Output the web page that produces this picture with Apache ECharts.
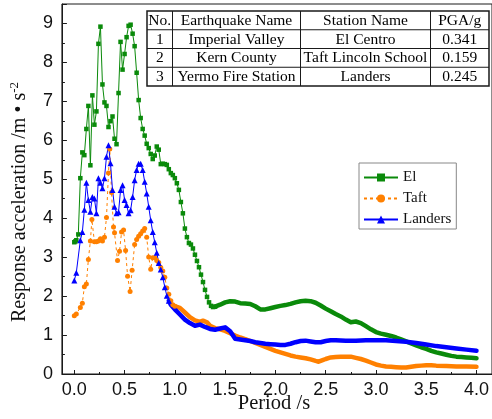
<!DOCTYPE html>
<html>
<head>
<meta charset="utf-8">
<script src="https://cdn.jsdelivr.net/npm/echarts@6/dist/echarts.min.js"></script>
<style>
html,body{margin:0;padding:0;background:#fff;}
#chart{width:492px;height:419px;}
</style>
</head>
<body>
<div id="chart"></div>
<script>
// ---- Data ----
// El Centro: discrete-marker part
const elPeriod = [0.00,0.01,0.02,0.04,0.06,0.08,0.10,0.12,0.14,0.16,0.18,0.20,0.22,0.24,0.26,0.28,0.30,0.32,0.34,0.36,0.38,0.40,0.42,0.44,0.46,0.48,0.50,0.52,0.54,0.56,0.58,0.60,0.62,0.64,0.66,0.68,0.70,0.72,0.74,0.76,0.78,0.80,0.82,0.84,0.86,0.88,0.90,0.92,0.94,0.96,0.98,1.00,1.02,1.04,1.06,1.08,1.10,1.12,1.14,1.16,1.18,1.20,1.22,1.24,1.26,1.28,1.30,1.32,1.34,1.36,1.38,1.40];
const elAcc    = [3.40,3.42,3.45,3.60,5.04,5.70,5.63,6.30,6.89,5.37,7.16,6.41,6.75,8.48,8.92,7.44,6.98,6.89,6.35,6.50,6.62,6.05,5.91,7.22,8.53,7.82,8.22,8.65,8.94,8.97,8.74,8.42,7.74,7.04,6.58,6.30,6.13,5.92,5.81,5.66,5.53,5.62,5.85,5.77,5.40,5.41,5.40,5.38,5.27,5.17,5.12,5.04,4.91,4.74,4.43,4.14,3.75,3.53,3.38,3.34,3.24,3.08,2.92,2.76,2.57,2.38,2.18,2.00,1.86,1.77,1.74,1.75];
// El Centro: dense part (markers merge into a band)
const elDensePeriod = [1.40,1.45,1.50,1.55,1.60,1.65,1.70,1.75,1.80,1.85,1.90,1.95,2.00,2.05,2.10,2.15,2.20,2.25,2.30,2.35,2.40,2.45,2.50,2.55,2.60,2.65,2.70,2.75,2.80,2.85,2.90,2.95,3.00,3.05,3.10,3.15,3.20,3.25,3.30,3.35,3.40,3.45,3.50,3.55,3.60,3.65,3.70,3.75,3.80,3.85,3.90,3.95,4.00];
const elDenseAcc    = [1.75,1.80,1.86,1.89,1.88,1.84,1.83,1.82,1.76,1.68,1.68,1.71,1.74,1.77,1.79,1.82,1.86,1.89,1.90,1.89,1.85,1.78,1.70,1.63,1.56,1.50,1.42,1.35,1.37,1.33,1.25,1.17,1.10,1.06,1.03,1.00,0.96,0.91,0.86,0.81,0.76,0.71,0.67,0.62,0.58,0.55,0.52,0.49,0.47,0.46,0.45,0.44,0.43];

// Taft
const taftPeriod = [0.00,0.02,0.06,0.08,0.10,0.12,0.14,0.16,0.175,0.20,0.22,0.24,0.26,0.28,0.30,0.32,0.34,0.353,0.37,0.39,0.40,0.43,0.45,0.47,0.49,0.51,0.53,0.555,0.575,0.60,0.62,0.64,0.66,0.68,0.70,0.72,0.74,0.76,0.78,0.80,0.82,0.84,0.86,0.88,0.90,0.92,0.94,0.96,0.98,1.00];
const taftAcc    = [1.52,1.56,1.73,1.84,2.26,2.33,2.96,3.43,3.98,3.41,3.41,3.43,3.49,3.43,3.53,4.03,5.17,5.79,4.67,3.79,3.64,2.93,3.17,3.66,3.71,3.19,2.53,2.14,2.68,3.34,3.47,3.55,3.62,3.69,3.75,3.53,3.02,2.71,3.00,3.00,2.93,2.88,2.75,2.66,2.50,2.23,2.07,1.90,1.80,1.76];
const taftDensePeriod = [1.00,1.05,1.10,1.15,1.20,1.25,1.28,1.32,1.35,1.40,1.45,1.50,1.55,1.60,1.65,1.70,1.75,1.80,1.85,1.90,1.95,2.00,2.05,2.10,2.15,2.20,2.25,2.30,2.35,2.40,2.43,2.47,2.50,2.55,2.60,2.65,2.70,2.75,2.80,2.85,2.90,2.95,3.00,3.05,3.10,3.15,3.20,3.25,3.30,3.35,3.40,3.45,3.50,3.55,3.60,3.70,3.80,3.90,4.00];
const taftDenseAcc    = [1.76,1.72,1.60,1.48,1.40,1.36,1.39,1.35,1.26,1.20,1.17,1.13,1.07,1.01,0.96,0.92,0.87,0.82,0.77,0.72,0.67,0.62,0.58,0.54,0.50,0.47,0.45,0.43,0.40,0.36,0.34,0.38,0.41,0.45,0.46,0.47,0.47,0.47,0.44,0.41,0.37,0.32,0.27,0.24,0.22,0.21,0.20,0.19,0.19,0.21,0.23,0.24,0.25,0.25,0.24,0.23,0.22,0.22,0.21];

// Landers
const landPeriod = [0.00,0.02,0.06,0.08,0.10,0.12,0.14,0.16,0.18,0.20,0.22,0.24,0.26,0.28,0.30,0.32,0.34,0.36,0.38,0.40,0.42,0.44,0.46,0.48,0.50,0.52,0.54,0.56,0.58,0.60,0.62,0.64,0.66,0.68,0.70,0.72,0.74,0.76,0.78,0.80,0.82,0.84,0.86,0.88,0.90,0.92,0.94];
const landAcc    = [2.42,2.62,3.45,3.66,4.23,4.92,4.48,4.18,4.56,4.52,4.14,5.04,4.92,4.78,5.04,5.59,5.88,5.42,4.74,4.31,4.14,4.17,4.74,4.86,4.48,4.35,4.14,4.22,4.56,4.99,5.25,5.41,5.41,5.25,4.95,4.65,4.31,3.96,3.66,3.40,3.13,2.87,2.70,2.50,2.25,2.03,1.90];
const landDensePeriod = [0.94,0.96,1.00,1.05,1.10,1.15,1.20,1.25,1.30,1.35,1.40,1.45,1.50,1.55,1.60,1.65,1.70,1.75,1.80,1.85,1.90,1.95,2.00,2.05,2.10,2.15,2.20,2.25,2.30,2.35,2.40,2.45,2.50,2.55,2.60,2.70,2.80,2.90,3.00,3.10,3.20,3.30,3.40,3.50,3.60,3.70,3.80,3.90,4.00];
const landDenseAcc    = [1.90,1.80,1.68,1.55,1.42,1.33,1.26,1.29,1.23,1.18,1.16,1.19,1.22,1.12,0.93,0.91,0.89,0.87,0.84,0.82,0.80,0.79,0.78,0.77,0.77,0.80,0.84,0.87,0.88,0.86,0.84,0.84,0.87,0.89,0.89,0.88,0.88,0.89,0.89,0.89,0.87,0.85,0.82,0.78,0.74,0.71,0.68,0.65,0.62];

const seriesNames = ['El', 'Taft', 'Landers'];
const xTickLabels = ['0.0','0.5','1.0','1.5','2.0','2.5','3.0','3.5','4.0'];
const yTickLabels = ['0','1','2','3','4','5','6','7','8','9'];

const tableHeader = ['No.', 'Earthquake Name', 'Station Name', 'PGA/g'];
const tableRows = [
  ['1', 'Imperial Valley', 'El Centro', '0.341'],
  ['2', 'Kern County', 'Taft Lincoln School', '0.159'],
  ['3', 'Yermo Fire Station', 'Landers', '0.245']
];

// ---- Build chart ----
const zip = (a, b) => a.map((v, i) => [v, b[i]]);
const SERIF = '"Liberation Serif","Times New Roman",serif';
const SANS = '"Liberation Sans",Arial,sans-serif';
const AX = '#1a1a1a';
const GREEN = '#0a8a0a', ORANGE = '#ff8000', BLUE = '#0000ff';

const chart = echarts.init(document.getElementById('chart'), null, {renderer: 'canvas'});

// table graphic
const colX = [147, 172.5, 300.5, 430.5, 489];
const rowY = [11, 29.75, 48.5, 67.25, 86];
const tableEls = [];
tableEls.push({type: 'rect', shape: {x: colX[0], y: rowY[0], width: colX[4] - colX[0], height: rowY[4] - rowY[0]},
  style: {fill: '#fff', stroke: AX, lineWidth: 1.5}, z: 100});
for (let i = 1; i < colX.length - 1; i++) {
  tableEls.push({type: 'line', shape: {x1: colX[i], y1: rowY[0], x2: colX[i], y2: rowY[4]}, style: {stroke: AX, lineWidth: 1}, z: 101});
}
for (let j = 1; j < rowY.length - 1; j++) {
  tableEls.push({type: 'line', shape: {x1: colX[0], y1: rowY[j], x2: colX[4], y2: rowY[j]}, style: {stroke: AX, lineWidth: 1}, z: 101});
}
[tableHeader].concat(tableRows).forEach((row, j) => {
  row.forEach((txt, i) => {
    tableEls.push({type: 'text', z: 102,
      x: (colX[i] + colX[i + 1]) / 2, y: (rowY[j] + rowY[j + 1]) / 2 + 0.5,
      style: {text: txt, font: '15.5px ' + SERIF, fill: '#000', align: 'center', verticalAlign: 'middle'}});
  });
});

const common = {type: 'line', xAxisIndex: 1, yAxisIndex: 1, clip: false};

const option = {
  animation: false,
  backgroundColor: '#fff',
  grid: [
    {left: 54, right: 0, top: 4, bottom: 44, show: true, borderColor: AX, borderWidth: 1, backgroundColor: 'transparent'},
    {left: 74.3, right: 12.7, top: 4, bottom: 44}
  ],
  xAxis: [
    {gridIndex: 0, type: 'value', min: -0.2, max: 4.13,
      axisLine: {show: true, onZero: false, lineStyle: {color: AX, width: 1}},
      axisTick: {show: false}, axisLabel: {show: false}, splitLine: {show: false},
      name: 'Period /s', nameLocation: 'middle', nameGap: 19,
      nameTextStyle: {fontFamily: SERIF, fontSize: 20.5, color: '#111', padding: [0, 6, 0, 0]}},
    {gridIndex: 1, type: 'value', min: 0, max: 4, interval: 0.5,
      axisLine: {show: false},
      axisTick: {show: true, inside: true, length: 5, lineStyle: {color: AX, width: 1}},
      minorTick: {show: true, splitNumber: 2, length: 3, lineStyle: {color: AX, width: 1}},
      axisLabel: {fontFamily: SANS, fontSize: 18, color: '#111', margin: 6,
        formatter: v => xTickLabels[Math.round(v / 0.5)]},
      splitLine: {show: false}}
  ],
  yAxis: [
    {gridIndex: 0, type: 'value', min: 0, max: 9.5, interval: 1,
      axisLine: {show: true, onZero: false, lineStyle: {color: AX, width: 1}},
      axisTick: {show: true, inside: true, length: 5, lineStyle: {color: AX}},
      minorTick: {show: true, splitNumber: 2, length: 3, lineStyle: {color: AX}},
      axisLabel: {fontFamily: SANS, fontSize: 18, color: '#111', margin: 9, showMaxLabel: false,
        formatter: v => (Number.isInteger(v) ? yTickLabels[v] : '')},
      splitLine: {show: false},
      name: 'Response acceleration /m \u2022 s{sup|-2}', nameLocation: 'middle', nameGap: 17,
      nameTextStyle: {fontFamily: SERIF, fontSize: 20, color: '#111', lineHeight: 24, padding: [0, 26, 0, 0],
        rich: {sup: {fontFamily: SERIF, fontSize: 13, color: '#111', verticalAlign: 'top', lineHeight: 24}}}},
    {gridIndex: 1, type: 'value', min: 0, max: 9.5, show: false}
  ],
  legend: {
    data: seriesNames, orient: 'vertical', left: 359, top: 163,
    itemWidth: 34, itemHeight: 10, itemGap: 6,
    padding: [7, 5, 2, 4],
    borderColor: '#888', borderWidth: 1, backgroundColor: '#fff',
    textStyle: {fontFamily: SERIF, fontSize: 15, color: '#111'}
  },
  graphic: tableEls,
  series: [
    Object.assign({name: 'El', data: zip(elPeriod, elAcc), symbol: 'rect', symbolSize: 4.5, showAllSymbol: true,
      lineStyle: {color: GREEN, width: 1}, itemStyle: {color: GREEN}}, common),
    Object.assign({name: 'El', data: zip(elDensePeriod, elDenseAcc), symbol: 'none',
      lineStyle: {color: GREEN, width: 4.5, join: 'round', cap: 'round'}, itemStyle: {color: GREEN}}, common),
    Object.assign({name: 'Taft', data: zip(taftPeriod, taftAcc), symbol: 'circle', symbolSize: 5, showAllSymbol: true,
      lineStyle: {color: ORANGE, width: 1, type: [3, 3]}, itemStyle: {color: ORANGE}}, common),
    Object.assign({name: 'Taft', data: zip(taftDensePeriod, taftDenseAcc), symbol: 'none',
      lineStyle: {color: ORANGE, width: 4.5, join: 'round', cap: 'round'}, itemStyle: {color: ORANGE}}, common),
    Object.assign({name: 'Landers', data: zip(landPeriod, landAcc), symbol: 'triangle', symbolSize: 6, showAllSymbol: true,
      lineStyle: {color: BLUE, width: 1}, itemStyle: {color: BLUE}}, common),
    Object.assign({name: 'Landers', data: zip(landDensePeriod, landDenseAcc), symbol: 'none',
      lineStyle: {color: BLUE, width: 4.5, join: 'round', cap: 'round'}, itemStyle: {color: BLUE}}, common)
  ]
};
chart.setOption(option);
</script>
</body>
</html>
